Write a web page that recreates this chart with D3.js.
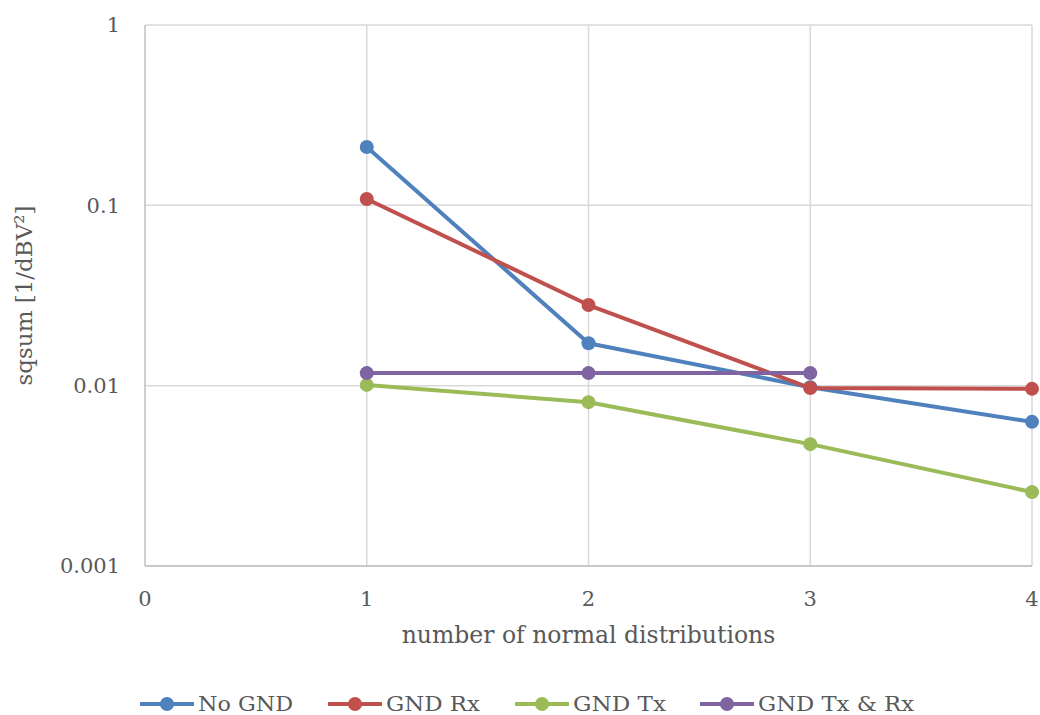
<!DOCTYPE html>
<html>
<head>
<meta charset="utf-8">
<script src="https://cdn.jsdelivr.net/npm/d3@7"></script>
<style>
  body { margin: 0; background: #fff; }
  text { font-family: "DejaVu Serif", "Liberation Serif", serif; fill: #595959; }
</style>
</head>
<body>
<script>
// data
var xValues = [1, 2, 3, 4];
var noGnd = [0.2105, 0.0172, 0.0098, 0.0063];
var gndRx = [0.1084, 0.0280, 0.0097, 0.0096];
var gndTx = [0.0101, 0.0081, 0.00474, 0.00257];
var gndTxRx = [0.01174, 0.01174, 0.01174];
var seriesNames = ["No GND", "GND Rx", "GND Tx", "GND Tx & Rx"];
var seriesColors = ["#4F81BD", "#C0504D", "#9BBB59", "#8064A2"];
var xTicks = [0, 1, 2, 3, 4];
var yTicks = [0.001, 0.01, 0.1, 1];

var series = [noGnd, gndRx, gndTx, gndTxRx];

var width = 1040;
var height = 715;
var margins = {top: 25, bottom: 149, left: 145, right: 8};

var svg = d3.select("body").append("svg")
  .attr("width", width)
  .attr("height", height);

var xScale = d3.scaleLinear()
  .domain([0, 4])
  .range([margins.left, width - margins.right]);
var yScale = d3.scaleLog()
  .domain([0.001, 1])
  .range([height - margins.bottom, margins.top]);

// gridlines
svg.append("g").selectAll("line.h")
  .data(yTicks)
  .enter().append("line")
  .attr("x1", xScale(0)).attr("x2", xScale(4))
  .attr("y1", function(d){ return yScale(d); })
  .attr("y2", function(d){ return yScale(d); })
  .attr("stroke", "#d9d9d9").attr("stroke-width", 1.5);
svg.append("g").selectAll("line.v")
  .data(xTicks)
  .enter().append("line")
  .attr("x1", function(d){ return xScale(d); })
  .attr("x2", function(d){ return xScale(d); })
  .attr("y1", yScale(1)).attr("y2", yScale(0.001))
  .attr("stroke", function(d){ return d === 0 ? "#bfbfbf" : "#d9d9d9"; })
  .attr("stroke-width", 1.5);
svg.append("line")
  .attr("x1", xScale(0)).attr("x2", xScale(4))
  .attr("y1", yScale(0.001)).attr("y2", yScale(0.001))
  .attr("stroke", "#bfbfbf").attr("stroke-width", 1.5);

// tick labels
svg.append("g").selectAll("text")
  .data(yTicks)
  .enter().append("text")
  .attr("x", xScale(0) - 25)
  .attr("y", function(d){ return yScale(d); })
  .attr("dy", "0.35em")
  .attr("text-anchor", "end")
  .attr("font-size", 21)
  .text(function(d){ return d3.format("~g")(d); });
svg.append("g").selectAll("text")
  .data(xTicks)
  .enter().append("text")
  .attr("x", function(d){ return xScale(d); })
  .attr("y", yScale(0.001) + 40)
  .attr("text-anchor", "middle")
  .attr("font-size", 21)
  .text(function(d){ return d; });

// axis titles
svg.append("text")
  .attr("x", (xScale(0) + xScale(4)) / 2)
  .attr("y", 643)
  .attr("text-anchor", "middle")
  .attr("font-size", 23.5)
  .text("number of normal distributions");
svg.append("text")
  .attr("transform", "translate(32," + (yScale(1) + yScale(0.001)) / 2 + ") rotate(-90)")
  .attr("text-anchor", "middle")
  .attr("font-size", 23)
  .text("sqsum [1/dBV²]");

var line = d3.line()
  .x(function(d, i){ return xScale(xValues[i]); })
  .y(function(d){ return yScale(d); });

series.forEach(function(s, k){
  svg.append("path")
    .datum(s)
    .attr("fill", "none")
    .attr("stroke", seriesColors[k])
    .attr("stroke-width", 4)
    .attr("stroke-linejoin", "round")
    .attr("d", line);
  svg.append("g").selectAll("circle")
    .data(s)
    .enter().append("circle")
    .attr("cx", function(d, i){ return xScale(xValues[i]); })
    .attr("cy", function(d){ return yScale(d); })
    .attr("r", 7)
    .attr("fill", seriesColors[k]);
});

// legend
var legendX = [140, 328, 515, 700];
var legend = svg.append("g");
seriesNames.forEach(function(name, k){
  var g = legend.append("g").attr("transform", "translate(" + legendX[k] + ",704)");
  g.append("line")
    .attr("x1", 0).attr("x2", 54)
    .attr("stroke", seriesColors[k]).attr("stroke-width", 4);
  g.append("circle").attr("cx", 27).attr("r", 7).attr("fill", seriesColors[k]);
  g.append("text")
    .attr("x", 58).attr("dy", "0.35em")
    .attr("font-size", 20)
    .attr("textLength", [95, 94, 93, 156][k])
    .attr("lengthAdjust", "spacingAndGlyphs")
    .text(name);
});
</script>
</body>
</html>
